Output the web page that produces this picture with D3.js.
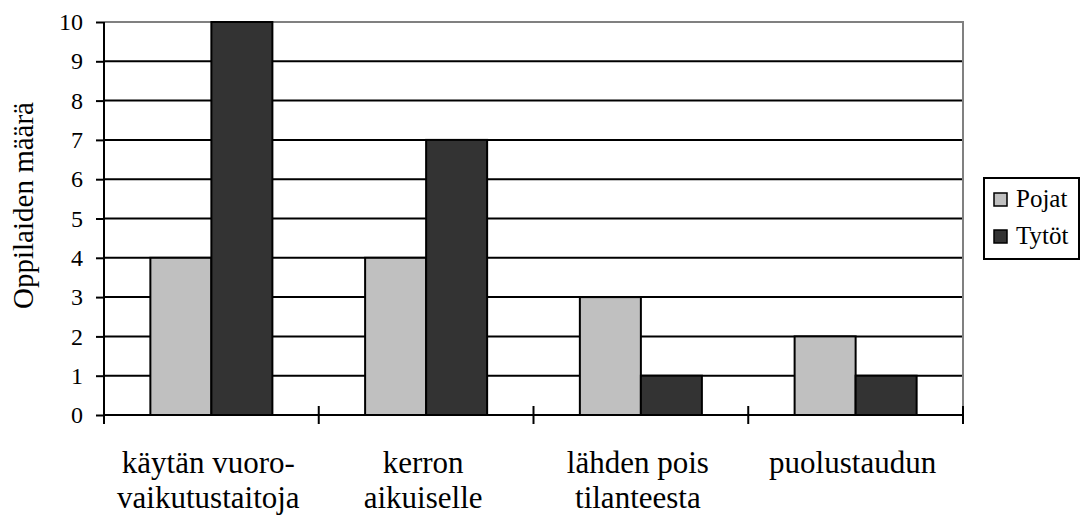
<!DOCTYPE html>
<html>
<head>
<meta charset="utf-8">
<script src="https://cdn.jsdelivr.net/npm/d3@7"></script>
<style>
  html, body { margin: 0; padding: 0; background: #fff; }
  svg { display: block; }
  svg text { font-family: "Liberation Serif", "Times New Roman", serif; }
</style>
</head>
<body>
<svg id="chart" width="1080" height="517"></svg>
<script>
// Data
const categories = [
  ["käytän vuoro-", "vaikutustaitoja"],
  ["kerron", "aikuiselle"],
  ["lähden pois", "tilanteesta"],
  ["puolustaudun"]
];
const seriesNames = ["Pojat", "Tytöt"];
const pojat = [4, 4, 3, 2];
const tytot = [10, 7, 1, 1];
const yTicks = [0, 1, 2, 3, 4, 5, 6, 7, 8, 9, 10];
const yTitle = "Oppilaiden määrä";

const colors = { "Pojat": "#c0c0c0", "Tytöt": "#333333" };
const SERIF = "'Liberation Serif', 'Times New Roman', serif";

const svg = d3.select("#chart");
const plot = { left: 104, top: 22, right: 963, bottom: 415 };

const catKeys = categories.map((c, i) => i);
const x = d3.scaleBand().domain(catKeys).range([plot.left, plot.right]).padding(0);
const xInner = d3.scaleBand().domain(seriesNames).range([0, x.bandwidth()])
  .paddingInner(0).paddingOuter(0.76);
const y = d3.scaleLinear().domain([0, 10]).range([plot.bottom, plot.top]);

// Horizontal gridlines
svg.append("g")
  .selectAll("line")
  .data(yTicks.filter(t => t > 0 && t < 10))
  .join("line")
  .attr("x1", plot.left).attr("x2", plot.right)
  .attr("y1", d => y(d)).attr("y2", d => y(d))
  .attr("stroke", "#000").attr("stroke-width", 2);

// Plot-area frame (top and right)
svg.append("path")
  .attr("d", `M${plot.left},${y(10)}H${plot.right}V${plot.bottom}`)
  .attr("fill", "none").attr("stroke", "#808080").attr("stroke-width", 2);

// Bars
const rows = categories.map((c, i) => ({ i, values: [
  { key: "Pojat", v: pojat[i] },
  { key: "Tytöt", v: tytot[i] }
]}));

svg.append("g")
  .selectAll("g")
  .data(rows)
  .join("g")
  .attr("transform", d => `translate(${x(d.i)},0)`)
  .selectAll("rect")
  .data(d => d.values)
  .join("rect")
  .attr("x", d => xInner(d.key))
  .attr("width", xInner.bandwidth())
  .attr("y", d => y(d.v))
  .attr("height", d => y(0) - y(d.v))
  .attr("fill", d => colors[d.key])
  .attr("stroke", "#000").attr("stroke-width", 2);

// Y axis
const yAxis = d3.axisLeft(y).tickValues(yTicks).tickSize(8).tickPadding(13).tickFormat(d3.format("d"));
const gy = svg.append("g").attr("transform", `translate(${plot.left},0)`).call(yAxis)
  .attr("font-family", null).attr("font-size", null);
gy.select(".domain").attr("stroke", "#000").attr("stroke-width", 2).attr("d", `M0,${y(10)}V${y(0)}`);
gy.selectAll(".tick line").attr("stroke", "#000").attr("stroke-width", 2);
gy.selectAll(".tick text").style("font-size", "24px").style("font-family", SERIF).attr("fill", "#000");

// X axis line and crossing ticks at category boundaries
svg.append("line")
  .attr("x1", plot.left).attr("x2", plot.right)
  .attr("y1", y(0)).attr("y2", y(0))
  .attr("stroke", "#000").attr("stroke-width", 2);

const boundaries = catKeys.map(k => x(k)).concat([plot.right]);
svg.append("g")
  .selectAll("line")
  .data(boundaries)
  .join("line")
  .attr("x1", d => d).attr("x2", d => d)
  .attr("y1", y(0) - 9).attr("y2", y(0) + 9)
  .attr("stroke", "#000").attr("stroke-width", 2);

// Category labels
svg.append("g")
  .selectAll("text")
  .data(categories.map((lines, i) => ({ lines, i })))
  .join("text")
  .attr("text-anchor", "middle")
  .style("font-size", "31px").style("font-family", SERIF)
  .attr("fill", "#000")
  .each(function(d) {
    const t = d3.select(this);
    d.lines.forEach((ln, j) => {
      t.append("tspan")
        .attr("x", x(d.i) + x.bandwidth() / 2 - 3)
        .attr("y", 473 + j * 35)
        .text(ln);
    });
  });

// Y axis title
svg.append("text")
  .attr("transform", `translate(33,${(plot.top + plot.bottom) / 2 - 13}) rotate(-90)`)
  .attr("text-anchor", "middle")
  .style("font-size", "29px").style("font-family", SERIF)
  .attr("fill", "#000")
  .text(yTitle);

// Legend
const legend = svg.append("g");
legend.append("rect")
  .attr("x", 984).attr("y", 178).attr("width", 95).attr("height", 81)
  .attr("fill", "#fff").attr("stroke", "#000").attr("stroke-width", 2);
const items = legend.selectAll("g.item")
  .data(seriesNames)
  .join("g").attr("class", "item")
  .attr("transform", (d, i) => `translate(994,${193 + i * 37})`);
items.append("rect")
  .attr("width", 13).attr("height", 13)
  .attr("fill", d => colors[d]).attr("stroke", "#000").attr("stroke-width", 1.5);
items.append("text")
  .attr("x", 22).attr("y", 14)
  .style("font-size", "25px").style("font-family", SERIF).attr("fill", "#000")
  .text(d => d);
</script>
</body>
</html>
